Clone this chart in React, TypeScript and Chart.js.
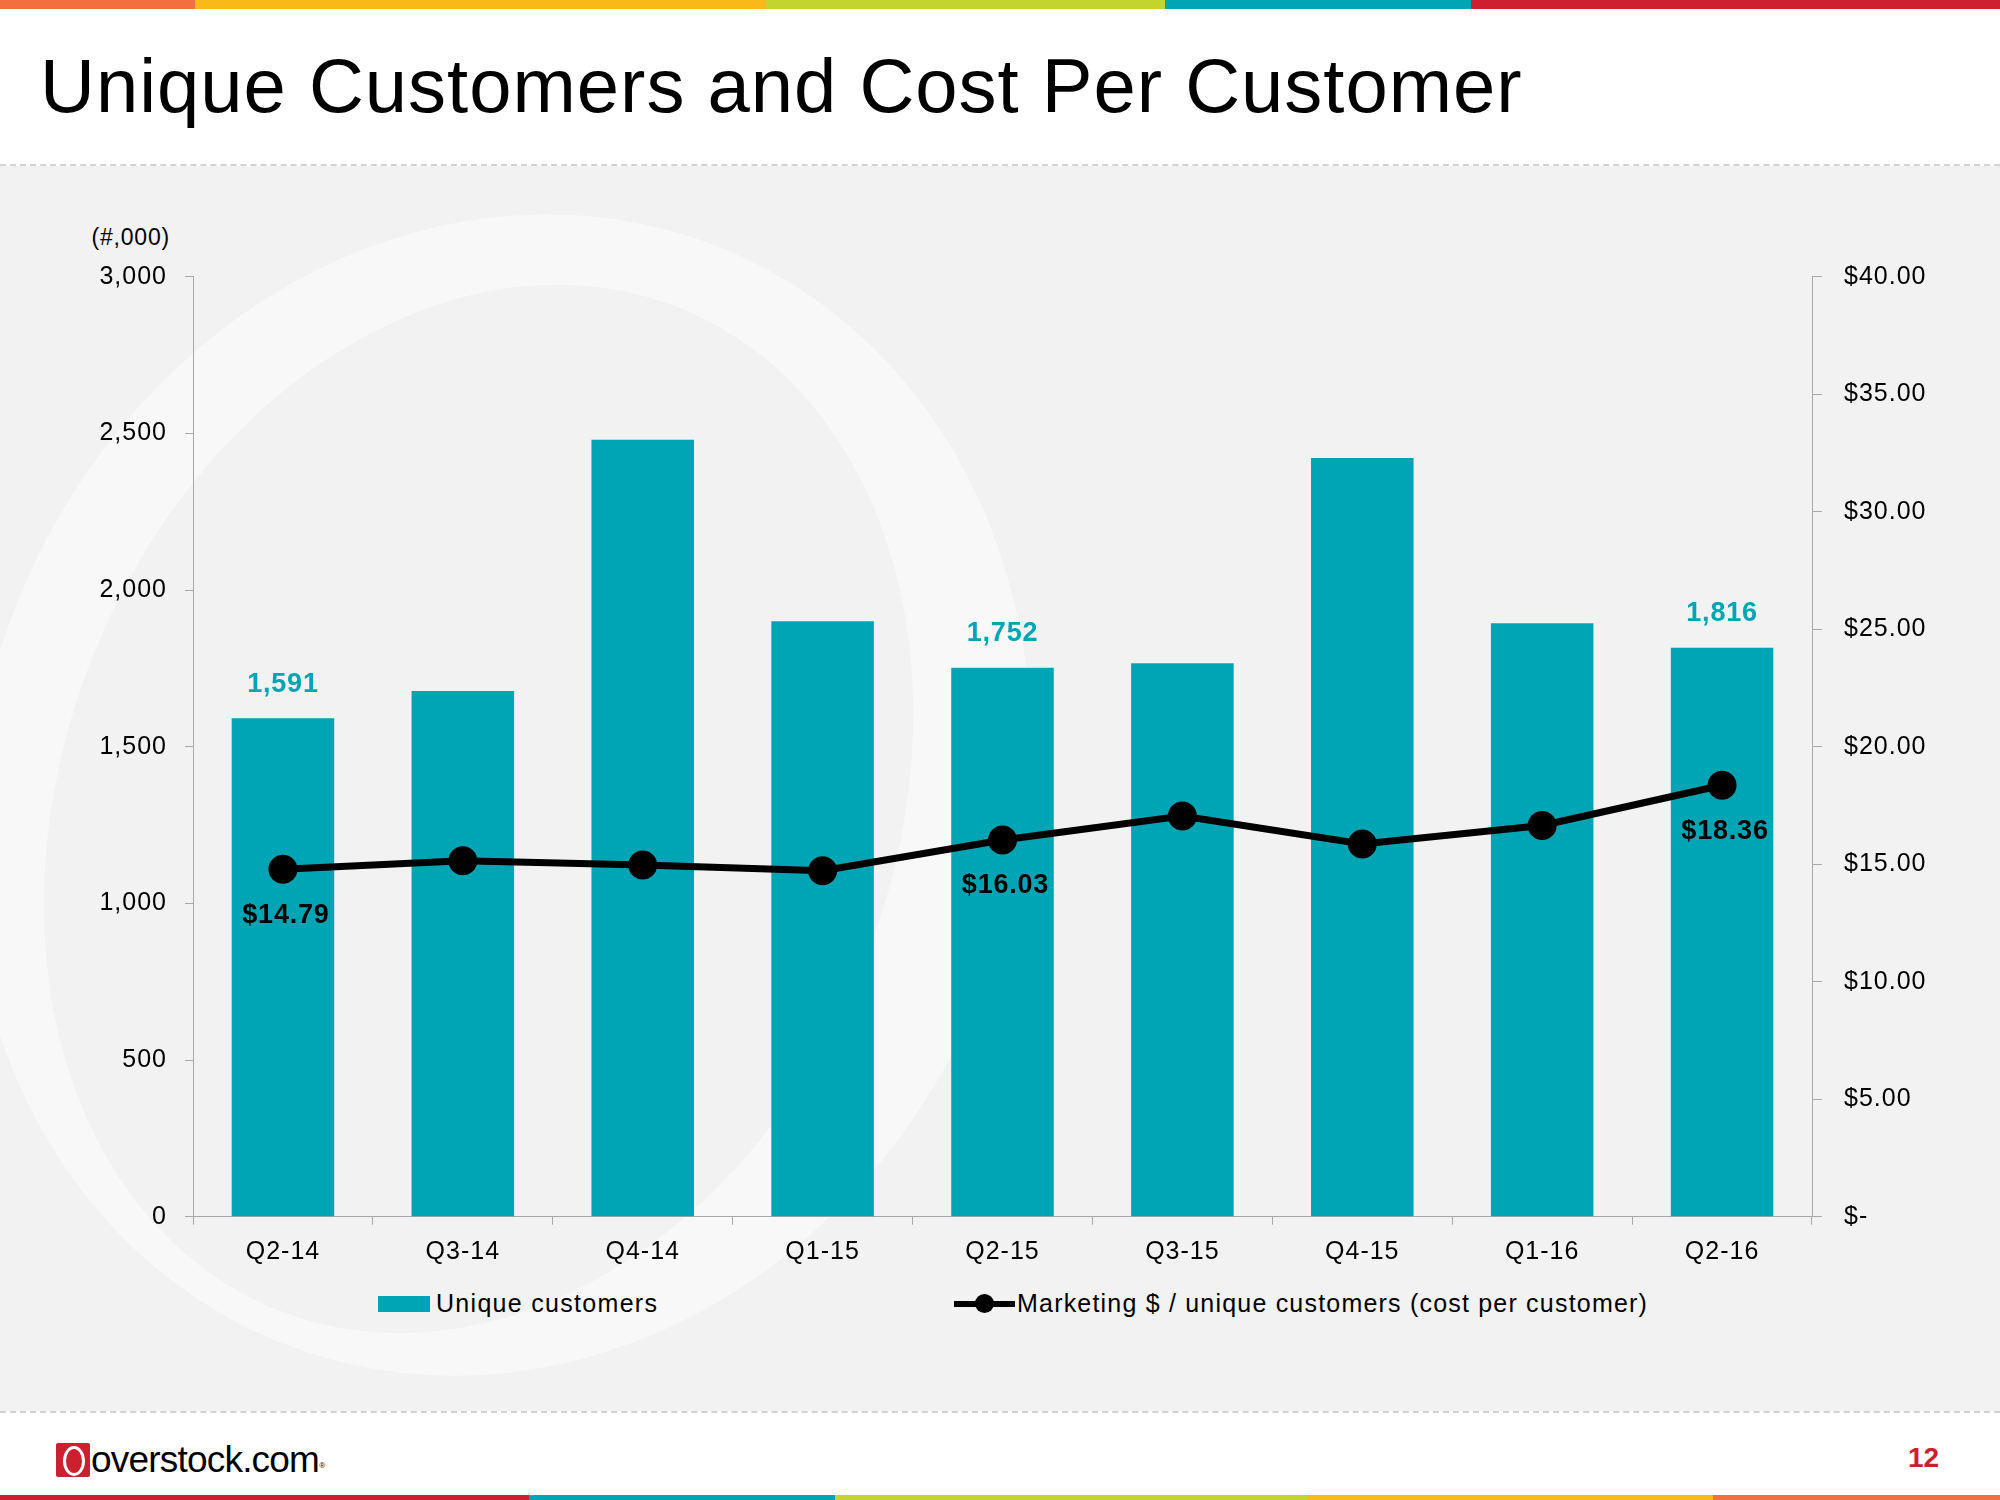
import React, { useEffect, useRef } from "react";
import { Chart, registerables } from "chart.js";

Chart.register(...registerables);

const categories = ["Q2-14", "Q3-14", "Q4-14", "Q1-15", "Q2-15", "Q3-15", "Q4-15", "Q1-16", "Q2-16"];
const uniqueCustomers = [1591, 1678, 2480, 1900, 1752, 1766, 2421, 1894, 1816];
const costPerCustomer = [14.79, 15.15, 14.97, 14.72, 16.03, 17.05, 15.86, 16.65, 18.36];
const labeledIndices = [0, 4, 8];
const leftAxisMax = 3000;
const leftAxisStep = 500;
const rightAxisMax = 40;
const rightAxisStep = 5;

const FONT = "'Liberation Sans', Arial, Helvetica, sans-serif";
const TEAL = "#00A5B5";
const AXIS_GRAY = "#A8A8A8";

const CANVAS_TOP = 167;
const CANVAS_H = 1113;
const PLOT_LEFT = 193;
const PLOT_RIGHT = 1812;
const PLOT_TOP = 276.7;
const PLOT_BOTTOM = 1216.7;

function fmtThousands(v: number): string {
  return Math.round(v).toString().replace(/\B(?=(\d{3})+(?!\d))/g, ",");
}
function fmtDollar(v: number): string {
  return v === 0 ? "$-" : "$" + v.toFixed(2);
}

const letterSpacingPlugin = {
  id: "letterSpacing",
  beforeLayout(chart: any) {
    chart.ctx.letterSpacing = "1px";
  },
  beforeDraw(chart: any) {
    chart.ctx.letterSpacing = "1px";
  },
};

const valueLabelPlugin = {
  id: "valueLabels",
  afterDatasetsDraw(chart: any) {
    const ctx = chart.ctx;
    ctx.save();
    ctx.letterSpacing = "0.8px";
    ctx.textAlign = "center";
    ctx.textBaseline = "middle";
    ctx.font = `bold 27px ${FONT}`;
    const barMeta = chart.getDatasetMeta(1);
    const lineMeta = chart.getDatasetMeta(0);
    labeledIndices.forEach((i) => {
      const bar = barMeta.data[i];
      ctx.fillStyle = TEAL;
      ctx.fillText(fmtThousands(uniqueCustomers[i]), bar.x, bar.y - 34);
      const pt = lineMeta.data[i];
      ctx.fillStyle = "#000";
      ctx.fillText(fmtDollar(costPerCustomer[i]), pt.x + 3, pt.y + 46);
    });
    ctx.restore();
  },
};

function ChartCanvas() {
  const ref = useRef<HTMLCanvasElement | null>(null);
  useEffect(() => {
    if (!ref.current) return;
    const chart = new Chart(ref.current, {
      type: "bar",
      data: {
        labels: categories,
        datasets: [
          {
            type: "line",
            label: "Marketing $ / unique customers (cost per customer)",
            data: costPerCustomer,
            yAxisID: "y1",
            borderColor: "#000",
            borderWidth: 7,
            pointRadius: 14.5,
            pointBackgroundColor: "#000",
            pointBorderWidth: 0,
            tension: 0,
            order: 0,
          } as any,
          {
            type: "bar",
            label: "Unique customers",
            data: uniqueCustomers,
            yAxisID: "y",
            backgroundColor: TEAL,
            categoryPercentage: 1,
            barPercentage: 0.57,
            order: 1,
          },
        ],
      },
      options: {
        animation: false,
        responsive: false,
        devicePixelRatio: 1,
        layout: { padding: { top: PLOT_TOP - CANVAS_TOP, left: 0, right: 0, bottom: 0 } },
        plugins: { legend: { display: false }, tooltip: { enabled: false }, title: { display: false } },
        scales: {
          x: {
            grid: { display: true, drawOnChartArea: false, drawTicks: true, tickLength: 8, color: AXIS_GRAY, offset: true },
            border: { color: AXIS_GRAY, width: 1 },
            ticks: { color: "#000", font: { family: FONT, size: 25 }, padding: 12, maxRotation: 0 },
            afterFit(s: any) {
              s.height = CANVAS_TOP + CANVAS_H - PLOT_BOTTOM;
            },
          },
          y: {
            position: "left",
            min: 0,
            max: leftAxisMax,
            grid: { drawOnChartArea: false, drawTicks: true, tickLength: 8, color: AXIS_GRAY },
            border: { color: AXIS_GRAY, width: 1 },
            ticks: {
              stepSize: leftAxisStep,
              color: "#000",
              font: { family: FONT, size: 25 },
              padding: 18,
              callback: (v: any) => fmtThousands(Number(v)),
            },
            afterFit(s: any) {
              s.width = PLOT_LEFT;
            },
          },
          y1: {
            position: "right",
            min: 0,
            max: rightAxisMax,
            grid: { drawOnChartArea: false, drawTicks: true, tickLength: 10, color: AXIS_GRAY },
            border: { color: AXIS_GRAY, width: 1 },
            ticks: {
              stepSize: rightAxisStep,
              color: "#000",
              font: { family: FONT, size: 25 },
              padding: 22,
              callback: (v: any) => fmtDollar(Number(v)),
            },
            afterFit(s: any) {
              s.width = 2000 - PLOT_RIGHT;
            },
          },
        },
      } as any,
      plugins: [letterSpacingPlugin, valueLabelPlugin],
    });
    return () => chart.destroy();
  }, []);
  return (
    <canvas
      ref={ref}
      width={2000}
      height={CANVAS_H}
      style={{ position: "absolute", left: 0, top: CANVAS_TOP, width: 2000, height: CANVAS_H }}
    />
  );
}

const topBar = [
  { w: 195, c: "#F36F3F" },
  { w: 570, c: "#F9B918" },
  { w: 400, c: "#C2D52F" },
  { w: 306, c: "#00A5B5" },
  { w: 529, c: "#CC2030" },
];
const bottomBar = [
  { w: 529, c: "#CC2030" },
  { w: 306, c: "#00A5B5" },
  { w: 472, c: "#C2D52F" },
  { w: 406, c: "#F9B918" },
  { w: 287, c: "#F36F3F" },
];

export default function App() {
  return (
    <div
      style={{
        position: "fixed",
        left: 0,
        top: 0,
        width: 2000,
        height: 1500,
        background: "#fff",
        overflow: "hidden",
        fontFamily: FONT,
      }}
    >
      <div style={{ position: "absolute", left: 0, top: 0, height: 9, width: 2000, display: "flex" }}>
        {topBar.map((s, i) => (
          <div key={i} style={{ width: s.w, height: 9, background: s.c }} />
        ))}
      </div>
      <div
        style={{
          position: "absolute",
          left: 40,
          top: 48,
          fontSize: 76,
          lineHeight: "76px",
          letterSpacing: "1px",
          color: "#000",
          whiteSpace: "nowrap",
        }}
      >
        Unique Customers and Cost Per Customer
      </div>
      <div style={{ position: "absolute", left: 0, top: 164, width: 2000, borderTop: "2px dashed #D2D2D2" }} />
      <div style={{ position: "absolute", left: 0, top: 166, width: 2000, height: 1245, background: "#F2F2F2", overflow: "hidden" }}>
        <svg width={2000} height={1245} style={{ position: "absolute", left: 0, top: 0 }}>
          <path
            fillRule="evenodd"
            fill="#F8F8F8"
            d="M -20 629 A 520 590 0 1 0 1020 629 A 520 590 0 1 0 -20 629 Z M 70 650 A 415 540 0 1 0 900 650 A 415 540 0 1 0 70 650 Z"
            transform="rotate(22 500 630)"
          />
        </svg>
      </div>
      <div style={{ position: "absolute", left: 0, top: 1411, width: 2000, borderTop: "2px dashed #D2D2D2" }} />
      <div
        style={{
          position: "absolute",
          left: 80,
          top: 222,
          width: 90,
          textAlign: "right",
          fontSize: 23,
          lineHeight: "30px",
          letterSpacing: "0.8px",
          color: "#000",
        }}
      >
        (#,000)
      </div>
      <ChartCanvas />
      {/* legend */}
      <div style={{ position: "absolute", left: 378, top: 1296, width: 52, height: 16, background: TEAL }} />
      <div
        style={{ position: "absolute", left: 436, top: 1288, fontSize: 25, lineHeight: "30px", letterSpacing: "1.3px", color: "#000", whiteSpace: "nowrap" }}
      >
        Unique customers
      </div>
      <div style={{ position: "absolute", left: 954, top: 1301, width: 61, height: 6, background: "#000" }} />
      <div style={{ position: "absolute", left: 975, top: 1294, width: 19, height: 19, borderRadius: "50%", background: "#000" }} />
      <div
        style={{ position: "absolute", left: 1017, top: 1288, fontSize: 25, lineHeight: "30px", letterSpacing: "1.2px", color: "#000", whiteSpace: "nowrap" }}
      >
        Marketing $ / unique customers (cost per customer)
      </div>
      {/* footer */}
      <div style={{ position: "absolute", left: 56, top: 1443, width: 34, height: 34, background: "#CC2030", borderRadius: 2 }}>
        <div
          style={{
            position: "absolute",
            left: 7,
            top: 3,
            width: 16,
            height: 24,
            border: "3px solid #fff",
            borderRadius: "50%",
          }}
        />
      </div>
      <div
        style={{ position: "absolute", left: 91, top: 1438, fontSize: 37, lineHeight: "44px", letterSpacing: "-0.8px", color: "#000", whiteSpace: "nowrap" }}
      >
        overstock.com
        <sup style={{ fontSize: 8, verticalAlign: "top", position: "relative", top: 6 }}>®</sup>
      </div>
      <div
        style={{ position: "absolute", left: 1908, top: 1442, fontSize: 28, lineHeight: "32px", fontWeight: "bold", color: "#CC2030" }}
      >
        12
      </div>
      <div style={{ position: "absolute", left: 0, top: 1495, height: 5, width: 2000, display: "flex" }}>
        {bottomBar.map((s, i) => (
          <div key={i} style={{ width: s.w, height: 5, background: s.c }} />
        ))}
      </div>
    </div>
  );
}
